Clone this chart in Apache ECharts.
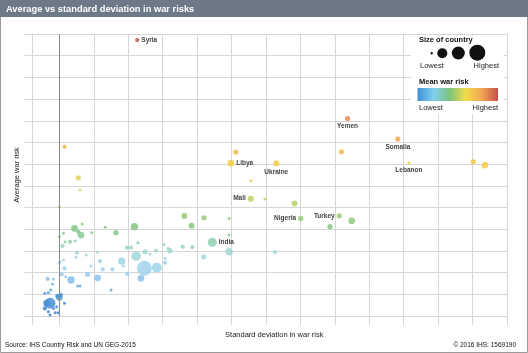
<!DOCTYPE html>
<html>
<head>
<meta charset="utf-8">
<title>Average vs standard deviation in war risks</title>
<script src="https://cdn.jsdelivr.net/npm/echarts@6/dist/echarts.min.js"></script>
<style>
    html, body { margin: 0; padding: 0; background: #fff; }
    #main { width: 528px; height: 353px; }
</style>
</head>
<body>
<div id="main"></div>
<script>
    // labelled countries
    var labelNames = ['Syria', 'Yemen', 'Somalia', 'Lebanon', 'Libya', 'Ukraine', 'Mali', 'Nigeria', 'Turkey', 'India'];
    var labelStd   = [2.26, 8.37, 9.83, 10.15, 4.98, 6.30, 5.56, 7.01, 8.13, 4.44];
    var labelMean  = [12.72, 9.10, 8.16, 7.05, 7.05, 7.04, 5.41, 4.50, 4.62, 3.40];
    var labelSize  = [2, 3, 3, 1, 5, 4, 4, 3, 3, 9];

    // other countries: standard deviation, average war risk, size of country
    var stdDev = [5.12, 8.19, 12.02, 12.36, 5.56, 5.97, 6.83, 8.49, 7.86, 4.20,
        4.93, 4.93, 4.93, 3.21, 3.58, 3.86, 4.19, 6.26, 3.63, 3.84,
        0.15, 0.55, 0.60, 0.00, 2.18, 0.44, 0.63, 0.55, 0.66, 1.33,
        1.64, 0.94, 0.12, 0.00, 0.31, 0.17, 0.46, 0.09, 2.28, 1.96,
        2.08, 2.49, 2.63, 2.81, 3.04, 3.16, 2.23, 2.47, 2.83, 3.07,
        3.07, 2.37, 1.97, 1.54, 1.26, 1.11, 0.82, 1.18, 0.92, 0.78,
        0.51, 0.48, 1.81, 1.86, 0.34, 0.15, 0.07, 0.19, -0.01, 0.02,
        0.12, -0.34, -0.20, -0.17, -0.42, -0.32, -0.25, -0.06, 0.00, 0.04,
        -0.27, -0.37, -0.42, -0.32, -0.17, -0.08, 0.15, -0.27, -0.12, -0.03,
        1.50, 0.53, 0.60, 1.11];
    var meanRisk = [7.56, 7.57, 7.11, 6.96, 6.24, 5.39, 5.19, 4.39, 4.12, 4.53,
        4.49, 3.73, 2.96, 3.01, 3.19, 3.17, 2.73, 2.94, 4.61, 4.16,
        7.80, 6.37, 5.81, 5.04, 4.12, 4.04, 3.73, 3.88, 4.24, 4.09,
        3.84, 3.84, 3.81, 3.65, 3.42, 3.42, 3.46, 3.23, 3.38, 3.15,
        3.15, 2.96, 2.86, 3.01, 3.30, 3.12, 2.76, 2.20, 2.23, 2.66,
        2.46, 1.74, 1.94, 2.15, 2.15, 1.76, 1.92, 2.53, 2.30, 2.81,
        2.92, 2.71, 2.53, 2.30, 1.66, 2.20, 1.92, 1.81, 2.43, 2.50,
        2.58, 1.71, 1.47, 1.71, 1.05, 1.07, 1.20, 0.92, 0.86, 0.97,
        0.59, 0.59, 0.35, 0.20, 0.35, 0.43, 0.59, 0.05, 0.15, 0.15,
        1.20, 1.38, 1.38, 2.94];
    var countrySize = [3, 3, 3, 5, 1, 1, 4, 5, 3, 3,
        1, 1, 6, 3, 2, 2, 3, 2, 4, 4,
        2, 3, 1, 1, 6, 5, 5, 2, 1, 1,
        3, 1, 1, 1, 2, 1, 1, 2, 1, 2,
        2, 3, 1, 2, 1, 1, 10, 25, 11, 1,
        2, 5, 2, 2, 2, 5, 3, 2, 1, 1,
        2, 1, 6, 1, 6, 2, 2, 1, 1, 1,
        1, 2, 1, 1, 1, 1, 1, 2, 5, 2,
        13, 5, 2, 1, 1, 1, 1, 1, 1, 1,
        1, 1, 1, 1];

    // where each name sits: [position, offsetX, offsetY]
    var labelPlace = {
        Syria: ['right', 0, 0], Yemen: ['bottom', -1, 0], Somalia: ['bottom', -10, 0],
        Lebanon: ['bottom', 9, 0], Libya: ['right', 0, 0], Ukraine: ['bottom', 3, 0],
        Mali: ['left', 0, 0], Nigeria: ['left', 0, 0], Turkey: ['left', 0, 0], India: ['right', -1, 0]
    };

    var points = [];
    for (var i = 0; i < stdDev.length; i++) {
        points.push([stdDev[i], meanRisk[i], countrySize[i]]);
    }
    for (var j = 0; j < labelNames.length; j++) {
        var p = labelPlace[labelNames[j]];
        points.push({
            value: [labelStd[j], labelMean[j], labelSize[j]],
            name: labelNames[j],
            label: {
                show: true, formatter: labelNames[j], position: p[0], offset: [p[1], p[2]],
                distance: 2, color: '#1a1a1a', fontSize: 6.5, fontWeight: 'bold',
                fontFamily: 'Liberation Sans, Arial, sans-serif'
            }
        });
    }

    var myChart = echarts.init(document.getElementById('main'), null, {renderer: 'canvas'});
    var font = 'Liberation Sans, Arial, sans-serif';
    var gridColor = '#d6d6d6';

    myChart.setOption({
        animation: false,
        backgroundColor: '#fff',
        grid: {left: 32.5, right: 21, top: 34, bottom: 37},
        xAxis: {
            type: 'value',
            min: -0.78,
            max: 13,
            splitNumber: 14,
            name: 'Standard deviation in war risk',
            nameLocation: 'middle',
            nameGap: 15,
            nameTextStyle: {fontFamily: font, fontSize: 7.5, color: '#222', padding: [0, 0, 0, 9]},
            axisLine: {show: true, lineStyle: {color: gridColor}},
            axisTick: {show: true, length: 9, lineStyle: {color: gridColor}},
            axisLabel: {show: false},
            splitLine: {show: true, lineStyle: {color: gridColor, width: 1}}
        },
        yAxis: {
            type: 'value',
            min: 0,
            max: 13,
            interval: 1,
            name: 'Average war risk',
            nameLocation: 'middle',
            nameGap: 12,
            nameTextStyle: {fontFamily: font, fontSize: 7.5, color: '#222'},
            axisLine: {show: true, onZero: false, lineStyle: {color: gridColor}},
            axisTick: {show: true, length: 8, lineStyle: {color: gridColor}},
            axisLabel: {show: false},
            splitLine: {show: true, lineStyle: {color: gridColor, width: 1}}
        },
        visualMap: {
            show: false,
            type: 'continuous',
            dimension: 1,
            seriesIndex: 1,
            min: 0,
            max: 13,
            inRange: {
                color: ['#3a7fcc', '#4f98dc', '#9fd2f2', '#9fd8d0', '#80c585', '#abcf6a', '#dcd655',
                    '#f5cc42', '#f3ac4b', '#ec8c55', '#e07a55', '#d66a52', '#cc5a50', '#c4504d']
            }
        },
        graphic: [
            {type: 'rect', z: 100, shape: {x: 0.5, y: 0.5, width: 527, height: 352},
                style: {fill: 'none', stroke: '#9a9a9a', lineWidth: 1}},
            {type: 'rect', z: 101, shape: {x: 0, y: 0, width: 528, height: 17},
                style: {fill: '#6e7987'}},
            {type: 'text', z: 102, x: 6, y: 9,
                style: {text: 'Average vs standard deviation in war risks', fill: '#fff',
                    font: 'bold 9.3px ' + font, verticalAlign: 'middle'}},
            // legend box
            {type: 'rect', z: 50, shape: {x: 411, y: 36, width: 93, height: 78},
                style: {fill: '#fff'}},
            {type: 'text', z: 51, x: 419, y: 40,
                style: {text: 'Size of country', fill: '#111', font: 'bold 7.5px ' + font, verticalAlign: 'middle'}},
            {type: 'circle', z: 51, shape: {cx: 431.7, cy: 53.3, r: 1.2}, style: {fill: '#111'}},
            {type: 'circle', z: 51, shape: {cx: 442.3, cy: 53.3, r: 5}, style: {fill: '#111'}},
            {type: 'circle', z: 51, shape: {cx: 458.3, cy: 53, r: 6.5}, style: {fill: '#111'}},
            {type: 'circle', z: 51, shape: {cx: 477.3, cy: 52.7, r: 8}, style: {fill: '#111'}},
            {type: 'text', z: 51, x: 420, y: 66,
                style: {text: 'Lowest', fill: '#222', font: '7.5px ' + font, verticalAlign: 'middle'}},
            {type: 'text', z: 51, x: 499, y: 66,
                style: {text: 'Highest', fill: '#222', font: '7.5px ' + font, verticalAlign: 'middle', align: 'right'}},
            {type: 'text', z: 51, x: 419, y: 82,
                style: {text: 'Mean war risk', fill: '#111', font: 'bold 7.5px ' + font, verticalAlign: 'middle'}},
            {type: 'rect', z: 51, shape: {x: 417.5, y: 88, width: 80.5, height: 13},
                style: {fill: new echarts.graphic.LinearGradient(0, 0, 1, 0, [
                    {offset: 0, color: '#3f8fd8'},
                    {offset: 0.2, color: '#7fd0f0'},
                    {offset: 0.4, color: '#7cc47c'},
                    {offset: 0.6, color: '#f3dc4a'},
                    {offset: 0.8, color: '#f1a552'},
                    {offset: 1, color: '#c4504d'}
                ])}},
            {type: 'text', z: 51, x: 419, y: 108,
                style: {text: 'Lowest', fill: '#222', font: '7.5px ' + font, verticalAlign: 'middle'}},
            {type: 'text', z: 51, x: 498, y: 108,
                style: {text: 'Highest', fill: '#222', font: '7.5px ' + font, verticalAlign: 'middle', align: 'right'}},
            // footer
            {type: 'text', z: 51, x: 5, y: 345,
                style: {text: 'Source: IHS Country Risk and UN GEG-2015', fill: '#111', font: '6.5px ' + font, verticalAlign: 'middle'}},
            {type: 'text', z: 51, x: 516, y: 345,
                style: {text: '\u00a9 2016 IHS: 1569190', fill: '#111', font: '6.5px ' + font, verticalAlign: 'middle', align: 'right'}}
        ],
        series: [
            {
                // zero line of the standard deviation axis
                type: 'scatter',
                z: 1,
                data: [],
                markLine: {
                    silent: true,
                    symbol: 'none',
                    label: {show: false},
                    lineStyle: {color: '#8a8a8a', width: 1, type: 'solid'},
                    data: [{xAxis: 0}]
                }
            },
            {
                type: 'scatter',
                z: 2,
                data: points,
                symbolSize: function (v) {
                    return 3 * Math.sqrt(v[2]);
                },
                itemStyle: {opacity: 0.85},
                labelLayout: {hideOverlap: false}
            }
        ]
    });
</script>
</body>
</html>
